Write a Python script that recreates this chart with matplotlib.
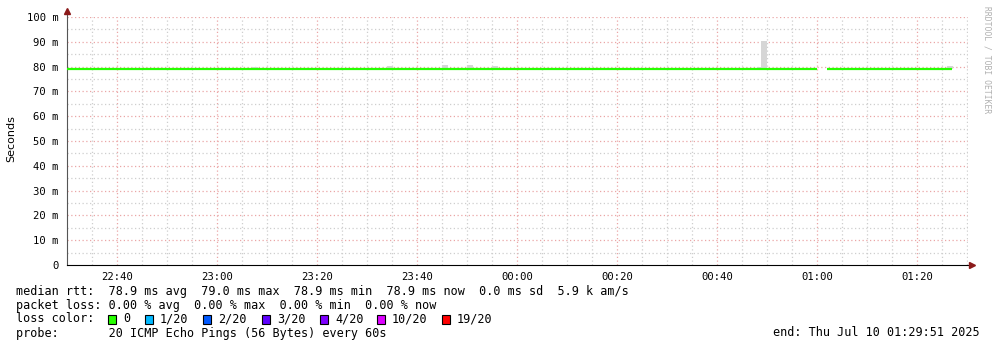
import matplotlib
matplotlib.use("Agg")
import matplotlib.pyplot as plt
from matplotlib.patches import Rectangle
import numpy as np

# time axis: minutes after 22:30
x_max = 180.2
tick_minutes = [10, 30, 50, 70, 90, 110, 130, 150, 170]
tick_labels = ["22:40", "23:00", "23:20", "23:40", "00:00", "00:20", "00:40", "01:00", "01:20"]
y_ticks = [0, 10, 20, 30, 40, 50, 60, 70, 80, 90, 100]
y_labels = ["0", "10 m", "20 m", "30 m", "40 m", "50 m", "60 m", "70 m", "80 m", "90 m", "100 m"]

# median rtt (ms), stored as runs of equal value
seg_start = [0, 152]
seg_end = [150, 177]
seg_rtt = [78.9, 78.9]

# smoke (min..max of pings) where it sticks out of the median line
smoke_time = [37, 64, 75, 80, 85, 138, 138.8, 176]
smoke_lo = [79.0, 79.0, 79.0, 79.0, 79.0, 79.0, 79.0, 79.0]
smoke_hi = [80.0, 80.3, 80.6, 80.6, 80.3, 79.9, 90.4, 80.2]

loss_labels = ["0", "1/20", "2/20", "3/20", "4/20", "10/20", "19/20"]
loss_colors = ["#26ff00", "#00b8ff", "#0059ff", "#5e00ff", "#7e00ff", "#dd00ff", "#ff0000"]
loss_box_x = [108, 145, 203, 262, 320, 377, 442]

rows = [
    "median rtt:  78.9 ms avg  79.0 ms max  78.9 ms min  78.9 ms now  0.0 ms sd  5.9 k am/s",
    "packet loss: 0.00 % avg  0.00 % max  0.00 % min  0.00 % now",
    "loss color:",
    "probe:       20 ICMP Echo Pings (56 Bytes) every 60s",
]
end_text = "end: Thu Jul 10 01:29:51 2025"

plt.rcParams["font.family"] = "DejaVu Sans Mono"

W, H = 997, 347
fig = plt.figure(figsize=(W / 100, H / 100), dpi=100)
L, R, T, B = 67, 968, 17, 265
ax = fig.add_axes([L / W, 1 - B / H, (R - L) / W, (B - T) / H])

# grid
for m in np.arange(5, x_max, 5):
    major = m % 20 == 10
    ax.axvline(m, color="#eaa6a6" if major else "#cecece", lw=0.9,
               ls=(0, (1, 2)), zorder=0)
for v in np.arange(5, 101, 5):
    major = v % 10 == 0
    ax.axhline(v, color="#eaa6a6" if major else "#cecece", lw=0.9,
               ls=(0, (1, 2)), zorder=0)

ax.bar(smoke_time, np.array(smoke_hi) - np.array(smoke_lo), bottom=smoke_lo,
       width=1.2, align="edge", color="#d6d6d6", zorder=2)
ax.hlines(seg_rtt, seg_start, seg_end, color=loss_colors[0], lw=1.6, zorder=3)

ax.set_xlim(0, x_max)
ax.set_ylim(0, 100)
ax.set_xticks(tick_minutes)
ax.set_xticklabels(tick_labels, fontsize=7.6)
ax.set_yticks(y_ticks)
ax.set_yticklabels(y_labels, fontsize=7.6)
ax.tick_params(axis="x", length=0, pad=5)
ax.tick_params(axis="y", length=0, pad=6)
for s in ["top", "right"]:
    ax.spines[s].set_visible(False)
ax.spines["left"].set_color("#555555")
ax.spines["bottom"].set_color("#000000")
ax.spines["left"].set_bounds(0, 102.5)
ax.spines["bottom"].set_bounds(0, x_max + 0.6)
ax.set_facecolor("white")

# axis arrows
ax.plot([0], [102.6], marker="^", ms=4, color="#8b1a1a", clip_on=False, zorder=5)
ax.plot([x_max + 0.7], [0], marker=">", ms=4, color="#8b1a1a", clip_on=False, zorder=5)

fig.text(11 / W, 1 - 139 / H, "Seconds", rotation=90, ha="center", va="center",
         fontsize=8, family="DejaVu Sans")
fig.text(987 / W, 1 - 60 / H, "RRDTOOL / TOBI OETIKER", rotation=-90,
         ha="center", va="center", fontsize=5.8, color="#b0b0b0")

row_y = [291, 305, 319, 333]
for txt, y in zip(rows, row_y):
    fig.text(16 / W, 1 - y / H, txt, ha="left", va="center", fontsize=8.5)
for lbl, col, bx in zip(loss_labels, loss_colors, loss_box_x):
    fig.patches.append(Rectangle((bx / W, 1 - 324 / H), 8 / W, 9 / H,
                                 transform=fig.transFigure, facecolor=col,
                                 edgecolor="black", lw=0.8))
    fig.text((bx + 15) / W, 1 - 319 / H, lbl, ha="left", va="center", fontsize=8.5)
fig.text(980 / W, 1 - 333 / H, end_text, ha="right", va="center", fontsize=8.5)

fig.savefig("out.png", dpi=100)
